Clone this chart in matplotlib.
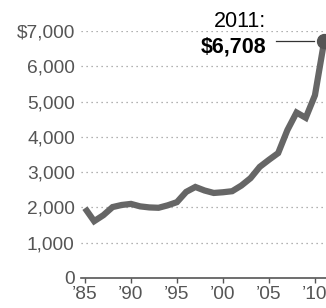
import matplotlib
matplotlib.use("Agg")
import matplotlib.pyplot as plt

years = list(range(1985, 2012))
values = [1980, 1610, 1780, 2010, 2070, 2100, 2030, 2000, 1990, 2060,
          2150, 2440, 2580, 2480, 2410, 2430, 2460, 2620, 2830, 3150,
          3350, 3540, 4190, 4690, 4540, 5180, 6708]
yticks = [0, 1000, 2000, 3000, 4000, 5000, 6000, 7000]
ytick_labels = ["0", "1,000", "2,000", "3,000", "4,000", "5,000", "6,000", "$7,000"]
xticks = [1985, 1990, 1995, 2000, 2005, 2010]
xtick_labels = ["\u201985", "\u201990", "\u201995", "\u201900", "\u201905", "\u201910"]

plt.rcParams['font.family'] = ['Liberation Sans', 'DejaVu Sans']

fig = plt.figure(figsize=(3.26, 3.08), dpi=100)
ax = fig.add_axes([81 / 326, 30 / 308, 245 / 326, 247 / 308])

ax.plot(years, values, color="#666666", lw=4.5, solid_joinstyle="miter",
        solid_capstyle="butt", zorder=3)
ax.plot(years[-1], values[-1], "o", color="#555555", ms=10, clip_on=False, zorder=4)

ax.set_xlim(1984.57, 2011.2)
ax.set_ylim(0, 7000)

for v in yticks[1:]:
    ax.axhline(v, color="#999999", lw=0.9, ls=(0, (1, 3)), zorder=1)

ax.set_yticks(yticks)
ax.set_yticklabels(ytick_labels)
ax.set_xticks(xticks)
ax.set_xticklabels(xtick_labels)
ax.tick_params(axis="y", length=0, pad=4.5, labelsize=13.8, labelcolor="#555555")
ax.tick_params(axis="x", length=3.5, width=1, color="#555555", pad=2,
               labelsize=13.8, labelcolor="#555555")

for s in ["top", "right", "left"]:
    ax.spines[s].set_visible(False)
ax.spines["bottom"].set_color("#555555")
ax.spines["bottom"].set_linewidth(1.2)

# annotation for latest value
ax.annotate("2011:", xy=(2004.7, 7110), ha="right", va="baseline",
            fontsize=15.5, color="black", annotation_clip=False)
ax.annotate("$6,708", xy=(2004.7, 6400), ha="right", va="baseline",
            fontsize=15.5, fontweight="bold", color="black", annotation_clip=False)
ax.plot([2005.8, 2009.9], [values[-1], values[-1]], color="#333333", lw=0.9, zorder=2)

fig.savefig("out.png", dpi=100)
